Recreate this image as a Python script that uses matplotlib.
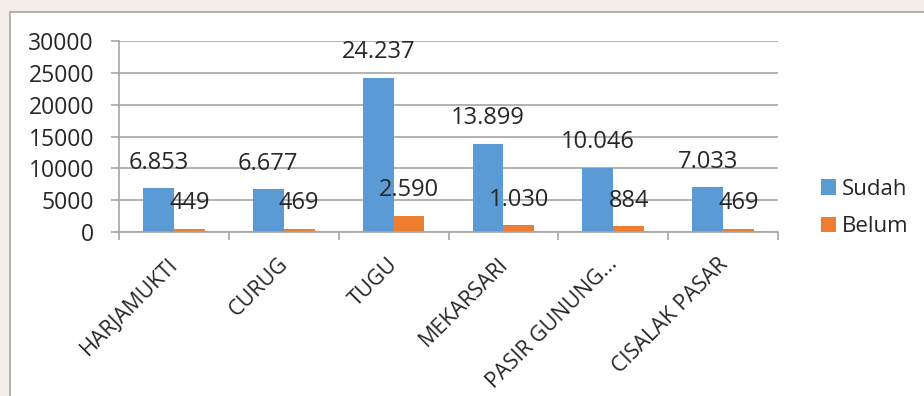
import numpy as np
import matplotlib.pyplot as plt
from matplotlib.patches import Rectangle

# data
kelurahan = ['HARJAMUKTI', 'CURUG', 'TUGU', 'MEKARSARI', 'PASIR GUNUNG...', 'CISALAK PASAR']
sudah = [6853, 6677, 24237, 13899, 10046, 7033]
belum = [449, 469, 2590, 1030, 884, 469]

plt.rcParams['font.family'] = ['Open Sans', 'DejaVu Sans']

fig = plt.figure(figsize=(9.24, 3.96), dpi=100)
fig.patch.set_facecolor('#f3ede8')
# white chart frame
fig.add_artist(Rectangle((10/924, -0.01), 1.0, (396-12)/396 + 0.01, transform=fig.transFigure,
                         facecolor='white', edgecolor='#a6a6a6', linewidth=1.2, zorder=0))

ax = fig.add_axes([119/924, 1-232/396, (778-119)/924, (232-41)/396])
ax.set_facecolor('none')

x = np.arange(len(kelurahan))
w = 0.28
b1 = ax.bar(x - w/2, sudah, w, color='#5b9bd5', label='Sudah', zorder=2)
b2 = ax.bar(x + w/2, belum, w, color='#ed7d31', label='Belum', zorder=2)

fmt = lambda v: f'{v:,}'.replace(',', '.')
for xi, v in zip(x - w/2, sudah):
    ax.annotate(fmt(v), (xi, v), xytext=(0, 18.5), textcoords='offset points',
                ha='center', va='center', fontsize=17, color='#262626', zorder=3)
for xi, v in zip(x + w/2, belum):
    ax.annotate(fmt(v), (xi, v), xytext=(0, 18.5), textcoords='offset points',
                ha='center', va='center', fontsize=17, color='#262626', zorder=3)

ax.set_xlim(-0.5, len(kelurahan) - 0.5)
ax.set_ylim(0, 30000)
ax.set_yticks(np.arange(0, 30001, 5000))
ax.grid(axis='y', color='#a6a6a6', linewidth=1.2, zorder=1)
for s in ['top', 'right', 'left']:
    ax.spines[s].set_visible(False)
ax.spines['bottom'].set_color('#a6a6a6')
ax.spines['bottom'].set_linewidth(1.2)
ax.plot([-0.5, -0.5], [0, 30000], color='#a6a6a6', lw=1.2, clip_on=False, zorder=1)

ax.tick_params(axis='y', length=6, width=1.2, color='#a6a6a6', pad=12, labelsize=16.5, labelcolor='#262626')
ax.set_xticks(np.arange(-0.5, len(kelurahan)))
ax.set_xticklabels([])
ax.tick_params(axis='x', length=6, width=1.2, color='#a6a6a6')
for xi, lab in zip(x, kelurahan):
    ax.annotate(lab, (xi, 0), xytext=(1, -21), textcoords='offset points', rotation=45,
                ha='right', va='center', rotation_mode='anchor', fontsize=15.5, color='#262626')

ax.legend(loc='center left', bbox_to_anchor=(821/924, 1-208/396), bbox_transform=fig.transFigure,
          frameon=False, fontsize=16, handlelength=0.68, handleheight=0.68, handletextpad=0.27,
          labelspacing=0.75, borderpad=0, borderaxespad=0, labelcolor='#262626')

plt.savefig('out.png', dpi=100, facecolor=fig.get_facecolor())
